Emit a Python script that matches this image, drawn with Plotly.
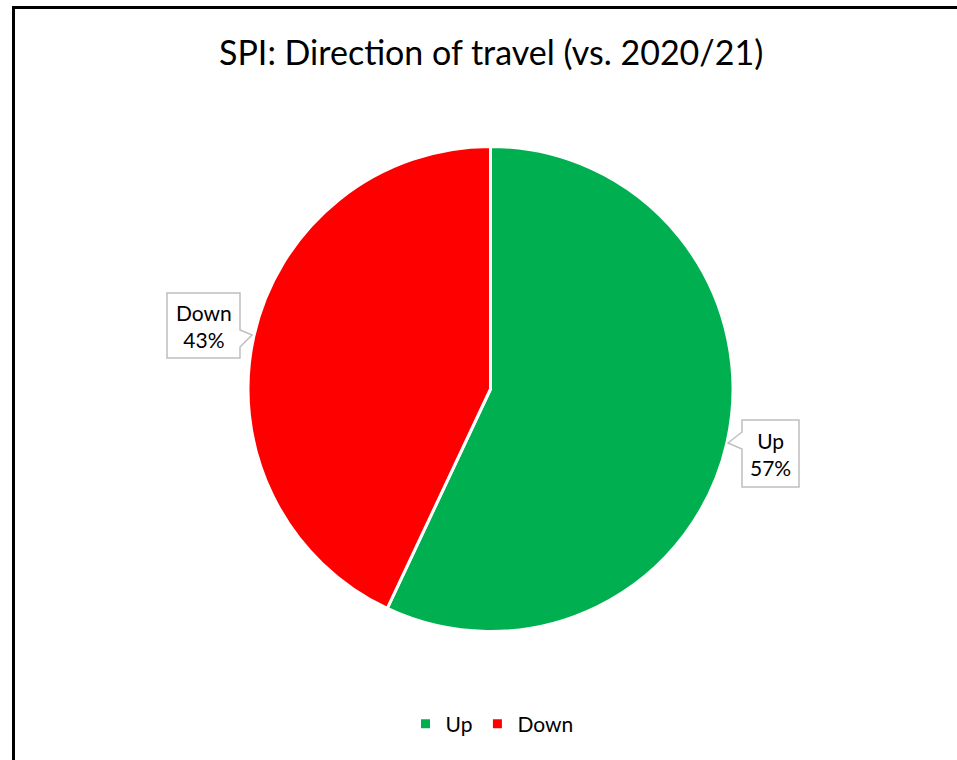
import plotly.graph_objects as go

# ---- data ----
labels = ["Up", "Down"]
values = [57, 43]
colors = ["#00B050", "#FF0000"]
title_text = "SPI: Direction of travel (vs. 2020/21)"

W, H = 957, 760
FONT = "Lato, Carlito, Calibri, sans-serif"


def px(x):
    return x / W


def py(y):
    return 1 - y / H


fig = go.Figure(
    go.Pie(
        labels=labels,
        values=values,
        marker=dict(colors=colors, line=dict(color="white", width=3)),
        sort=False,
        direction="clockwise",
        rotation=0,
        textinfo="none",
        hoverinfo="label+percent",
        domain=dict(x=[px(248), px(733)], y=[py(632), py(146)]),
    )
)

total = sum(values)
pct = [round(100 * v / total) for v in values]

# callout boxes (decoration) in pixel coords: box + pointer
callouts = {
    "Up": dict(center=(770.5, 453.5),
               path=[(742, 420), (799, 420), (799, 487), (742, 487), (742, 449), (728, 443), (742, 432)]),
    "Down": dict(center=(203.5, 325.5),
                 path=[(167, 293), (240, 293), (240, 330), (252, 335), (240, 347), (240, 358), (167, 358)]),
}

shapes = [
    # outer chart border
    dict(type="rect", xref="paper", yref="paper", x0=px(13.5), y0=-0.1, x1=1.1, y1=py(7.5),
         line=dict(color="black", width=3), fillcolor="rgba(0,0,0,0)", layer="above"),
]
annotations = [
    dict(text=title_text, x=px(491), y=py(51), xref="paper", yref="paper",
         showarrow=False, xanchor="center", yanchor="middle",
         font=dict(family=FONT, size=34, color="black")),
]
for lab, p in zip(labels, pct):
    c = callouts[lab]
    d = "M " + " L ".join(f"{px(x)},{py(y)}" for x, y in c["path"]) + " Z"
    shapes.append(dict(type="path", path=d, xref="paper", yref="paper",
                       line=dict(color="#BFBFBF", width=1.5), fillcolor="white", layer="above"))
    annotations.append(dict(text=f"{lab}<br>{p}%", x=px(c["center"][0]), y=py(c["center"][1]),
                            xref="paper", yref="paper", showarrow=False,
                            xanchor="center", yanchor="middle",
                            font=dict(family=FONT, size=21, color="black")))

fig.update_layout(
    width=W, height=H,
    margin=dict(l=0, r=0, t=0, b=0),
    paper_bgcolor="white",
    plot_bgcolor="white",
    shapes=shapes,
    annotations=annotations,
    showlegend=True,
    legend=dict(orientation="h", x=px(492), y=py(724), xanchor="center", yanchor="middle",
                font=dict(family=FONT, size=21, color="black"), itemwidth=30,
                traceorder="normal"),
)

fig.write_html("out.html", config={"displayModeBar": False},
               post_script="document.body.style.margin='0';")
